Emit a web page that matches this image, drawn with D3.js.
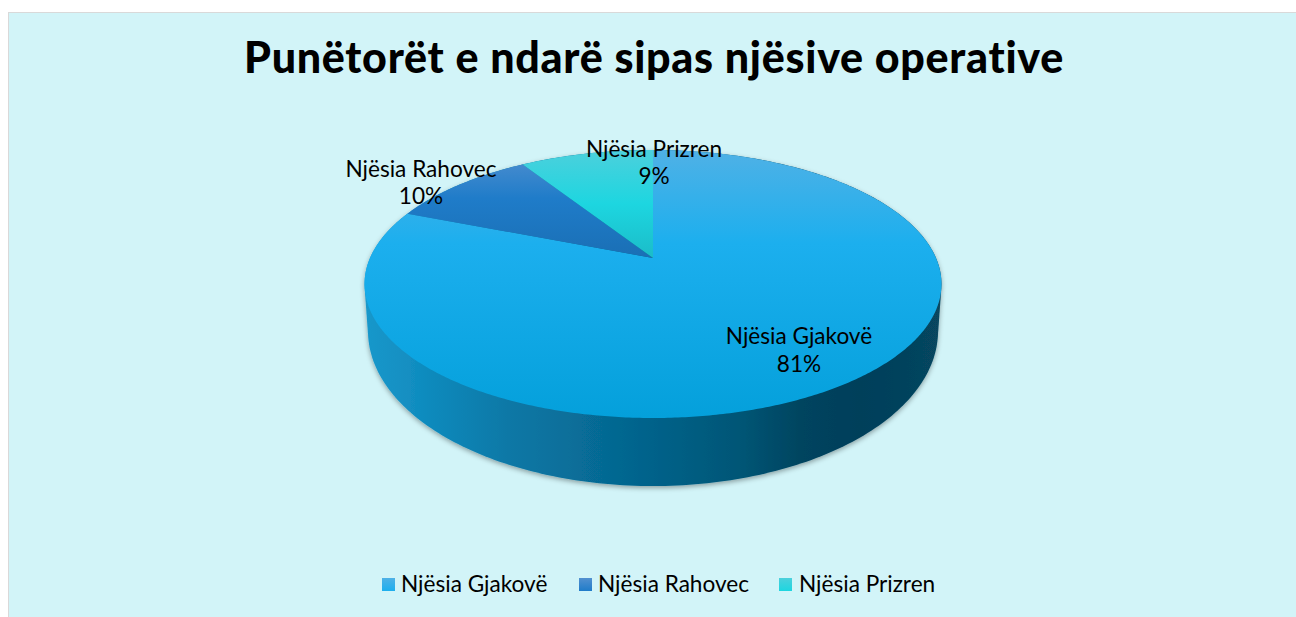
<!DOCTYPE html>
<html>
<head>
<meta charset="utf-8">
<script src="https://cdn.jsdelivr.net/npm/d3@7"></script>
<style>
    html, body { margin: 0; padding: 0; background: #fff; }
    svg { display: block; }
</style>
</head>
<body>
<svg id="chart" width="1296" height="617"></svg>
<script>
// Chart data
var chartTitle = 'Punëtorët e ndarë sipas njësive operative';
var categories = ['Njësia Gjakovë', 'Njësia Rahovec', 'Njësia Prizren'];
var shares = [81, 10, 9];

var width = 1296, height = 617;

// Tilted disc: flat circle coordinates are pushed through a perspective map
var disc = { cx: 653, apexY: 258, halfX: 283, spreadY: 78.9, persp: -0.194, midY: 284, baseScaleX: 0.988, baseScaleY: 1.157, baseDrop: 47 };

// Label and legend placement
var labelPos = [
    { x: 799, y: 344, gap: 28 },
    { x: 421, y: 177, gap: 27 },
    { x: 654, y: 157, gap: 27 }
];
var legendSwatchX = [382, 579, 779];
var legendTextX = [401, 598, 799];
var titleWidth = 820;

// Fills per slice, top to bottom
var sliceStops = [
    [[0, '#4fb1e6'], [0.35, '#1cafee'], [1, '#04a0db']],
    [[0, '#5290d0'], [0.45, '#1f7cc9'], [1, '#1a6fb5']],
    [[0, '#4cd0dc'], [0.5, '#1dd6e0'], [1, '#1bbcc8']]
];

var svg = d3.select('#chart');
var defs = svg.append('defs');

function project(angle, isBase) {
    var u = Math.sin(angle), v = -Math.cos(angle);
    var w = 1 + disc.persp * v;
    var x = disc.halfX * u / w;
    var y = (disc.apexY + disc.spreadY * v) / w;
    if (isBase) {
        x = x * disc.baseScaleX;
        y = disc.midY + (y - disc.midY) * disc.baseScaleY + disc.baseDrop;
    }
    return [disc.cx + x, y];
}

var pie = d3.pie().value(function(d) { return d; }).sort(null);
var arcs = pie(shares);

// Background panel
svg.append('rect')
    .attr('x', 8.5).attr('y', 12.5)
    .attr('width', width).attr('height', height)
    .attr('fill', '#d2f4f8')
    .attr('stroke', '#d9d9d9');

// Gradients
sliceStops.forEach(function(stops, i) {
    var g = defs.append('linearGradient')
        .attr('id', 'slice' + i)
        .attr('gradientUnits', 'userSpaceOnUse')
        .attr('x1', 0).attr('x2', 0)
        .attr('y1', 150).attr('y2', i === 0 ? 418 : 258);
    stops.forEach(function(s) {
        g.append('stop').attr('offset', s[0]).attr('stop-color', s[1]);
    });
});

var sideGrad = defs.append('linearGradient')
    .attr('id', 'side')
    .attr('gradientUnits', 'userSpaceOnUse')
    .attr('x1', 364).attr('x2', 941).attr('y1', 0).attr('y2', 0);
[[0, '#1a98cb'], [0.1, '#108cbf'], [0.25, '#0a78a6'], [0.5, '#04628a'], [0.65, '#045676'], [0.76, '#03445f'], [0.86, '#033f5a'], [1, '#07465f']].forEach(function(s) {
    sideGrad.append('stop').attr('offset', s[0]).attr('stop-color', s[1]);
});

var shadow = defs.append('filter').attr('id', 'soft')
    .attr('x', '-5%').attr('y', '-5%').attr('width', '110%').attr('height', '115%');
shadow.append('feDropShadow')
    .attr('dx', 0).attr('dy', 2).attr('stdDeviation', 2.5)
    .attr('flood-color', '#000').attr('flood-opacity', 0.35);

// Side wall: hull of the top rim and the base rim
var ringAngles = d3.range(0, 360, 1).map(function(d) { return d * Math.PI / 180; });
var ringPoints = [];
ringAngles.forEach(function(a) {
    ringPoints.push(project(a, false));
    ringPoints.push(project(a, true));
});
var hull = d3.polygonHull(ringPoints);

svg.append('path')
    .attr('d', d3.line()(hull) + 'Z')
    .attr('fill', 'url(#side)')
    .attr('filter', 'url(#soft)');

// Top surface slices
function slicePath(d) {
    var steps = Math.ceil((d.endAngle - d.startAngle) / 0.01);
    var pts = [[disc.cx, disc.apexY]];
    d3.range(steps + 1).forEach(function(j) {
        pts.push(project(d.startAngle + (d.endAngle - d.startAngle) * j / steps, false));
    });
    return d3.line()(pts) + 'Z';
}

svg.append('g')
    .selectAll('path')
    .data(arcs)
    .join('path')
    .attr('d', slicePath)
    .attr('fill', function(d, i) { return 'url(#slice' + i + ')'; });

// Title, spaced to the width it has in the original
var title = svg.append('text')
    .attr('x', 654)
    .attr('y', 73)
    .attr('text-anchor', 'middle')
    .attr('font-family', 'Lato, sans-serif')
    .attr('font-weight', 900)
    .attr('font-size', 43)
    .attr('fill', '#000')
    .text(chartTitle);
var titleGap = (titleWidth - title.node().getComputedTextLength()) / (chartTitle.length - 1);
title.attr('letter-spacing', titleGap);

// Data labels
var labels = svg.append('g')
    .attr('font-family', 'Lato, sans-serif')
    .attr('font-size', 22.6)
    .attr('text-anchor', 'middle')
    .attr('fill', '#000')
    .selectAll('text')
    .data(arcs)
    .join('text')
    .attr('x', function(d, i) { return labelPos[i].x; })
    .attr('y', function(d, i) { return labelPos[i].y; });

labels.append('tspan').text(function(d, i) { return categories[i]; });
labels.append('tspan')
    .attr('x', function(d, i) { return labelPos[i].x; })
    .attr('dy', function(d, i) { return labelPos[i].gap; })
    .text(function(d) { return d.data + '%'; });

// Legend
var legend = svg.append('g')
    .selectAll('g')
    .data(categories)
    .join('g');

legend.append('rect')
    .attr('x', function(d, i) { return legendSwatchX[i]; })
    .attr('y', 578)
    .attr('width', 13)
    .attr('height', 13)
    .attr('fill', function(d, i) { return 'url(#legend' + i + ')'; });

sliceStops.forEach(function(stops, i) {
    var g = defs.append('linearGradient')
        .attr('id', 'legend' + i)
        .attr('x1', 0).attr('x2', 0).attr('y1', 0).attr('y2', 1);
    g.append('stop').attr('offset', 0).attr('stop-color', stops[0][1]);
    g.append('stop').attr('offset', 1).attr('stop-color', stops[1][1]);
});

legend.append('text')
    .attr('x', function(d, i) { return legendTextX[i]; })
    .attr('y', 592)
    .attr('font-family', 'Lato, sans-serif')
    .attr('font-size', 22.6)
    .attr('fill', '#000')
    .text(function(d) { return d; });
</script>
</body>
</html>
